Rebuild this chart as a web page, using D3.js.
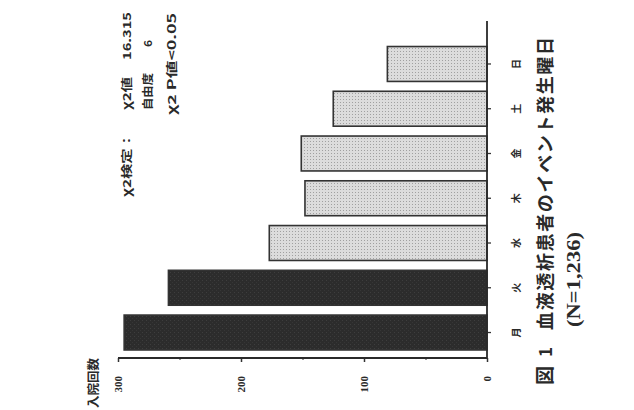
<!DOCTYPE html>
<html><head><meta charset="utf-8">
<script src="https://cdn.jsdelivr.net/npm/d3@7"></script>
<style>
html,body{margin:0;padding:0;background:#fff;}
svg{display:block;}
text{fill:#2a2a2a;}
</style></head>
<body>
<script>
// ---- data ----
const days = ["月","火","水","木","金","土","日"];
const counts = [295, 259, 177, 148, 151, 125, 81];
const highlightDays = ["月","火"];
const valueTicks = [0, 100, 200, 300];
const minorTicks = [50, 150, 250];
const yLabel = "入院回数";
const captionFig = "図";
const captionNum = "1";
const captionTitle = "血液透析患者のイベント発生曜日";
const captionN = "(N=1,236)";
const statLines = [
  {parts:[{t:"χ2検定：", x:213, len:64}, {t:"χ2値", x:300, len:33}, {t:"16.315", x:350, len:48}], y:127},
  {parts:[{t:"自由度", x:300, len:37}, {t:"6", x:363, len:7}], y:148},
  {parts:[{t:"χ2 P値<0.05", x:295, len:102}], y:172}
];

const W = 634, H = 410;
const svg = d3.select("body").append("svg").attr("width", W).attr("height", H);
svg.append("rect").attr("width", W).attr("height", H).attr("fill", "#fff");

const defs = svg.append("defs");
const pat = defs.append("pattern").attr("id","dots").attr("patternUnits","userSpaceOnUse")
  .attr("width",3).attr("height",3);
pat.append("rect").attr("width",3).attr("height",3).attr("fill","#dcdcdc");
pat.append("rect").attr("x",1).attr("y",1).attr("width",1).attr("height",1).attr("fill","#a0a0a0");
const pat2 = defs.append("pattern").attr("id","dark").attr("patternUnits","userSpaceOnUse")
  .attr("width",4).attr("height",4);
pat2.append("rect").attr("width",4).attr("height",4).attr("fill","#2c2c2c");
pat2.append("rect").attr("x",1).attr("y",2).attr("width",1).attr("height",1).attr("fill","#3e3e3e");
pat2.append("rect").attr("x",3).attr("y",0).attr("width",1).attr("height",1).attr("fill","#363636");

// chart drawn in its original (upright) frame, then rotated -90deg
const g = svg.append("g").attr("transform", `translate(0,${H}) rotate(-90)`);

const x = d3.scaleBand().domain(days).range([55.1, 368.4]).paddingInner(0.22).paddingOuter(0.11);
const y = d3.scaleLinear().domain([0, 300]).range([487, 118]);

const fontJP = "'Noto Sans CJK JP', sans-serif";
const fontSerif = "'Liberation Serif', 'DejaVu Serif', serif";

// bars
g.selectAll("rect.bar").data(days).join("rect")
  .attr("class","bar")
  .attr("x", d => x(d))
  .attr("width", x.bandwidth())
  .attr("y", (d,i) => y(counts[i]))
  .attr("height", (d,i) => y(0) - y(counts[i]))
  .attr("fill", d => highlightDays.includes(d) ? "url(#dark)" : "url(#dots)")
  .attr("stroke", "#333")
  .attr("stroke-width", 1.6);

// value axis
const yAxis = d3.axisLeft(y).tickValues(valueTicks).tickSize(4).tickPadding(14)
  .tickFormat(d3.format("d"));
const ya = g.append("g").attr("transform","translate(52,0)").call(yAxis);
ya.select(".domain").remove();
ya.selectAll(".tick line").attr("stroke","#333").attr("stroke-width",1.5);
ya.selectAll(".tick text").attr("font-family", fontSerif).attr("font-weight","bold")
  .attr("font-size", 11).attr("fill","#333");
const yMinor = d3.axisLeft(y).tickValues(minorTicks).tickSize(2).tickFormat("");
const ym = g.append("g").attr("transform","translate(52,0)").call(yMinor);
ym.select(".domain").remove();
ym.selectAll(".tick line").attr("stroke","#555").attr("stroke-width",1.2);

// category axis
const xAxis = d3.axisBottom(x).tickSize(4).tickPadding(22);
const xa = g.append("g").attr("transform",`translate(0,${y(0)})`).call(xAxis);
xa.select(".domain").remove();
xa.selectAll(".tick line").attr("stroke","#333").attr("stroke-width",1.3);
xa.selectAll(".tick text").attr("font-family", fontJP).attr("font-weight","bold")
  .attr("font-size", 10).attr("fill","#333");

// axis frame lines
g.append("path")
  .attr("d", `M389,${y(0)}H52V${y(300)}`)
  .attr("fill","none").attr("stroke","#2a2a2a").attr("stroke-width",1.8);

// y label
g.append("text").attr("x", 2).attr("y", 98).attr("font-family", fontJP)
  .attr("font-weight","bold").attr("font-size", 12).attr("textLength", 50)
  .attr("lengthAdjust","spacingAndGlyphs").text(yLabel);

// stats annotation
statLines.forEach(l => {
  l.parts.forEach(p => {
    g.append("text").attr("x", p.x).attr("y", l.y + 4).attr("font-family", fontJP)
      .attr("font-weight","bold").attr("font-size", 11)
      .attr("textLength", p.len).attr("lengthAdjust","spacingAndGlyphs")
      .attr("fill","#444").text(p.t);
  });
});

// caption
g.append("text").attr("x", 25).attr("y", 552).attr("font-family", fontJP)
  .attr("font-weight","bold").attr("font-size", 19).text(captionFig);
g.append("text").attr("x", 53).attr("y", 552).attr("font-family", fontJP)
  .attr("font-weight","bold").attr("font-size", 17).text(captionNum);
g.append("text").attr("x", 80).attr("y", 552).attr("font-family", fontJP)
  .attr("font-weight","bold").attr("font-size", 18).attr("textLength", 293)
  .attr("lengthAdjust","spacing").text(captionTitle);
g.append("text").attr("x", 83).attr("y", 580).attr("font-family", fontSerif)
  .attr("font-weight","bold").attr("font-size", 18).attr("textLength", 95)
  .attr("lengthAdjust","spacingAndGlyphs").text(captionN);
</script>
</body></html>
